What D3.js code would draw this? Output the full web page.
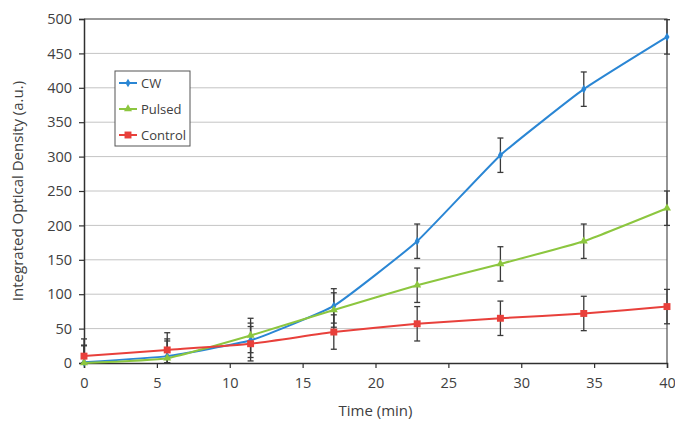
<!DOCTYPE html>
<html>
<head>
<meta charset="utf-8">
<script src="https://cdn.jsdelivr.net/npm/d3@7"></script>
<style>
    body { margin: 0; background: #fff; }
    text { font-family: "Open Sans", "Liberation Sans", sans-serif; fill: #404040; }
</style>
</head>
<body>
<div id="chart"></div>
<script>
// Data
const times = [0, 5.71, 11.43, 17.14, 22.86, 28.57, 34.29, 40];
const cwValues = [1, 10, 33, 83, 177, 302, 398, 474];
const pulsedValues = [0, 7, 40, 77, 113, 144, 177, 225];
const controlValues = [10, 19, 28, 45, 57, 65, 72, 82];
const cwErrors = [25, 25, 25, 25, 25, 25, 25, 25];
const pulsedErrors = [25, 25, 25, 25, 25, 25, 25, 25];
const controlErrors = [25, 25, 25, 25, 25, 25, 25, 25];
const xTicks = [0, 5, 10, 15, 20, 25, 30, 35, 40];
const yTicks = [0, 50, 100, 150, 200, 250, 300, 350, 400, 450, 500];

const series = [
    { name: 'CW', values: cwValues, errors: cwErrors, color: '#2a86d4', symbol: d3.symbolDiamond, size: 22 },
    { name: 'Pulsed', values: pulsedValues, errors: pulsedErrors, color: '#8cc63f', symbol: d3.symbolTriangle, size: 28 },
    { name: 'Control', values: controlValues, errors: controlErrors, color: '#e8403b', symbol: d3.symbolSquare, size: 48 }
];

const width = 675;
const height = 421;
const margin = { top: 19, right: 8, bottom: 58, left: 84 };

const svg = d3.select('#chart')
    .append('svg')
    .attr('width', width)
    .attr('height', height);

const x = d3.scaleLinear().domain([0, 40]).range([margin.left, width - margin.right]);
const y = d3.scaleLinear().domain([0, 500]).range([height - margin.bottom, margin.top]);

// Horizontal gridlines
svg.append('g')
    .selectAll('line')
    .data(yTicks.slice(1))
    .enter()
    .append('line')
    .attr('x1', x(0))
    .attr('x2', x(40))
    .attr('y1', (d) => y(d))
    .attr('y2', (d) => y(d))
    .attr('stroke', '#c4c4c4')
    .attr('stroke-width', 1);

// Top and right border
svg.append('path')
    .attr('d', `M${x(0)},${y(500)}H${x(40)}V${y(0)}`)
    .attr('fill', 'none')
    .attr('stroke', '#505050')
    .attr('stroke-width', 1.2);

// Axes
const xAxis = svg.append('g')
    .attr('transform', `translate(0,${y(0)})`)
    .call(d3.axisBottom(x).tickValues(xTicks).tickSize(5).tickPadding(10));
const yAxis = svg.append('g')
    .attr('transform', `translate(${x(0)},0)`)
    .call(d3.axisLeft(y).tickValues(yTicks).tickSize(5).tickPadding(7));

[xAxis, yAxis].forEach((g) => {
    g.select('.domain').attr('stroke', '#303030').attr('stroke-width', 1.5);
    g.selectAll('.tick line').attr('stroke', '#303030').attr('stroke-width', 1.2);
    g.selectAll('.tick text')
        .style('font-family', '"Open Sans", "Liberation Sans", sans-serif')
        .style('font-size', '14.5px')
        .attr('fill', '#404040');
});

// Axis titles
svg.append('text')
    .attr('x', (x(0) + x(40)) / 2)
    .attr('y', 416)
    .attr('text-anchor', 'middle')
    .style('font-size', '15px')
    .text('Time (min)');

svg.append('text')
    .attr('transform', `translate(23,${(y(0) + y(500)) / 2}) rotate(-90)`)
    .attr('text-anchor', 'middle')
    .style('font-size', '15px')
    .text('Integrated Optical Density (a.u.)');

// Error bars
series.forEach((s) => {
    const g = svg.append('g');
    s.values.forEach((v, i) => {
        const cx = x(times[i]);
        const top = y(Math.min(500, v + s.errors[i]));
        const bot = y(Math.max(0, v - s.errors[i]));
        g.append('line')
            .attr('x1', cx).attr('x2', cx)
            .attr('y1', top).attr('y2', bot)
            .attr('stroke', '#3a3a3a').attr('stroke-width', 1.3);
        [top, bot].forEach((yy) => {
            g.append('line')
                .attr('x1', cx - 3).attr('x2', cx + 3)
                .attr('y1', yy).attr('y2', yy)
                .attr('stroke', '#3a3a3a').attr('stroke-width', 1.3);
        });
    });
});

// Lines (lightly smoothed, as in the spreadsheet chart)
const line = d3.line()
    .x((d, i) => x(times[i]))
    .y((d) => y(d))
    .curve(d3.curveCardinal.tension(0.6));

series.forEach((s) => {
    svg.append('path')
        .datum(s.values)
        .attr('d', line)
        .attr('fill', 'none')
        .attr('stroke', s.color)
        .attr('stroke-width', 2);

    svg.append('g')
        .selectAll('path')
        .data(s.values)
        .enter()
        .append('path')
        .attr('transform', (d, i) => `translate(${x(times[i])},${y(d)})`)
        .attr('d', d3.symbol().type(s.symbol).size(s.size))
        .attr('fill', s.color);
});

// Legend
const legend = svg.append('g').attr('transform', 'translate(115,71)');
legend.append('rect')
    .attr('width', 75)
    .attr('height', 75)
    .attr('fill', '#fff')
    .attr('stroke', '#555')
    .attr('stroke-width', 1);

series.forEach((s, i) => {
    const ly = 12 + i * 26;
    legend.append('line')
        .attr('x1', 4).attr('x2', 22)
        .attr('y1', ly).attr('y2', ly)
        .attr('stroke', s.color).attr('stroke-width', 2);
    legend.append('path')
        .attr('transform', `translate(13,${ly})`)
        .attr('d', d3.symbol().type(s.symbol).size(s.size))
        .attr('fill', s.color);
    legend.append('text')
        .attr('x', 26)
        .attr('y', ly + 4.5)
        .style('font-size', '13px')
        .text(s.name);
});
</script>
</body>
</html>
